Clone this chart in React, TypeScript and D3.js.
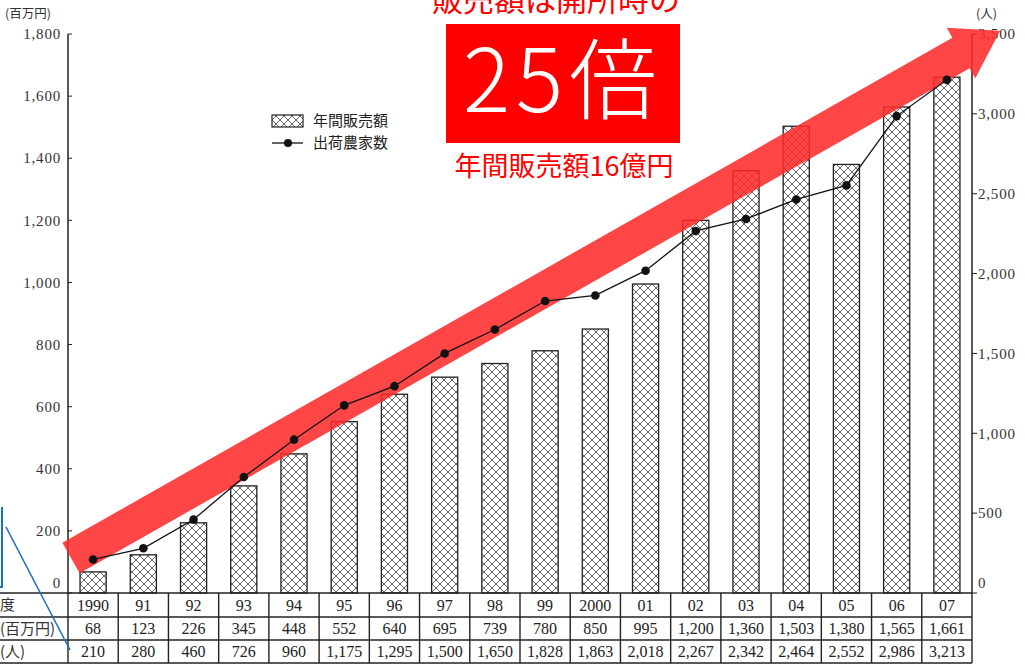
import * as d3 from "d3";
import React from "react";

// 年度・年間販売額(百万円)・出荷農家数(人)
const years = ["1990", "91", "92", "93", "94", "95", "96", "97", "98", "99", "2000", "01", "02", "03", "04", "05", "06", "07"];
const sales = [68, 123, 226, 345, 448, 552, 640, 695, 739, 780, 850, 995, 1200, 1360, 1503, 1380, 1565, 1661];
const farmers = [210, 280, 460, 726, 960, 1175, 1295, 1500, 1650, 1828, 1863, 2018, 2267, 2342, 2464, 2552, 2986, 3213];
const leftTicks = [0, 200, 400, 600, 800, 1000, 1200, 1400, 1600, 1800];
const rightTicks = [0, 500, 1000, 1500, 2000, 2500, 3000, 3500];
const rowLabels = ["度", "(百万円)", "(人)"];

const width = 1025;
const height = 666;
const plot = { left: 68, right: 972, top: 34, bottom: 593 };
const rowsY = [593, 617, 640, 663];

const serif = "'Liberation Serif', 'DejaVu Serif', serif";
const jp = "'Noto Sans CJK JP', sans-serif";

export default function App() {
  const x = d3
    .scaleBand<string>()
    .domain(years)
    .range([plot.left, plot.right])
    .paddingInner(0.48)
    .paddingOuter(0.24);
  const step = x.step();
  const yL = d3.scaleLinear().domain([0, 1800]).range([plot.bottom, plot.top]);
  const yR = d3.scaleLinear().domain([0, 3500]).range([plot.bottom, plot.top]);
  const fmt = d3.format(",");

  const cx = (i: number) => (x(years[i]) || 0) + x.bandwidth() / 2;
  const line = d3
    .line<number>()
    .x((_, i) => cx(i))
    .y((d) => yR(d));

  // big red arrow (annotation)
  const T = [71, 558];
  const B = [961, 53];
  const len = Math.hypot(B[0] - T[0], B[1] - T[1]);
  const u = [(B[0] - T[0]) / len, (B[1] - T[1]) / len];
  const n = [-u[1], u[0]];
  const hw = 17.5;
  const hh = 29;
  const hl = 45;
  const p = (o: number[], k: number) => [o[0] + n[0] * k, o[1] + n[1] * k];
  const tip = [B[0] + u[0] * hl, B[1] + u[1] * hl];
  const arrowPts = [p(T, -hw), p(B, -hw), p(B, -hh), tip, p(B, hh), p(B, hw), p(T, hw)];

  return (
    <svg
      width={width}
      height={height}
      style={{ position: "absolute", left: 0, top: 0, background: "#fff" }}
    >
      <defs>
        <pattern id="hatch" width={8} height={8} patternUnits="userSpaceOnUse">
          <rect width={8} height={8} fill="#fff" />
          <path d="M0,0L8,8M8,0L0,8" stroke="#555" strokeWidth={0.9} />
        </pattern>
      </defs>

      {/* axis titles */}
      <text x={5} y={18} fontFamily={jp} fontSize={12.5} fill="#333">(百万円)</text>
      <text x={976} y={18} fontFamily={jp} fontSize={12.5} fill="#333">(人)</text>

      {/* axes */}
      <line x1={plot.left} x2={plot.left} y1={plot.top} y2={plot.bottom} stroke="#222" strokeWidth={1.5} />
      <line x1={plot.right} x2={plot.right} y1={plot.top} y2={plot.bottom} stroke="#222" strokeWidth={1.5} />
      {leftTicks.map((t) => (
        <g key={"l" + t}>
          <line x1={plot.left} x2={plot.left + 4} y1={yL(t)} y2={yL(t)} stroke="#222" />
          <text
            x={61}
            y={Math.min(yL(t), 583)}
            dy="0.35em"
            textAnchor="end"
            fontFamily={serif}
            fontSize={15}
            letterSpacing={0.8}
            fill="#333"
          >
            {fmt(t)}
          </text>
        </g>
      ))}
      {rightTicks.map((t) => (
        <g key={"r" + t}>
          <line x1={plot.right} x2={plot.right + 5} y1={yR(t)} y2={yR(t)} stroke="#222" />
          <text
            x={978}
            y={Math.min(yR(t), 583)}
            dy="0.35em"
            fontFamily={serif}
            fontSize={15}
            letterSpacing={0.8}
            fill="#333"
          >
            {fmt(t)}
          </text>
        </g>
      ))}

      {/* bars */}
      {sales.map((v, i) => (
        <rect
          key={years[i]}
          x={x(years[i])}
          y={yL(v)}
          width={x.bandwidth()}
          height={plot.bottom - yL(v)}
          fill="url(#hatch)"
          stroke="#222"
          strokeWidth={1.3}
        />
      ))}

      {/* legend */}
      <rect x={272} y={115} width={31} height={12} fill="url(#hatch)" stroke="#222" strokeWidth={1.2} />
      <text x={313} y={121} dy="0.35em" fontFamily={jp} fontSize={15} fill="#222">年間販売額</text>
      <line x1={272} x2={303} y1={143} y2={143} stroke="#111" strokeWidth={1.3} />
      <circle cx={288} cy={143} r={4} fill="#111" />
      <text x={313} y={143} dy="0.35em" fontFamily={jp} fontSize={15} fill="#222">出荷農家数</text>

      {/* arrow */}
      <polygon points={arrowPts.map((q) => q.join(",")).join(" ")} fill="#ff2b2b" opacity={0.87} />

      {/* line */}
      <path d={line(farmers) || ""} fill="none" stroke="#111" strokeWidth={1.3} />
      {farmers.map((v, i) => (
        <circle key={"c" + i} cx={cx(i)} cy={yR(v)} r={4.3} fill="#111" />
      ))}

      {/* table */}
      {rowsY.map((ry, i) => (
        <line key={"h" + i} x1={0} x2={plot.right} y1={ry} y2={ry} stroke="#222" strokeWidth={1.4} />
      ))}
      {d3.range(years.length + 1).map((i) => (
        <line
          key={"v" + i}
          x1={plot.left + i * step}
          x2={plot.left + i * step}
          y1={rowsY[0]}
          y2={rowsY[3]}
          stroke="#222"
          strokeWidth={1.4}
        />
      ))}
      {rowLabels.map((lab, r) => (
        <text
          key={"rl" + r}
          x={0}
          y={(rowsY[r] + rowsY[r + 1]) / 2}
          dy="0.35em"
          fontFamily={jp}
          fontSize={15}
          fill="#333"
        >
          {lab}
        </text>
      ))}
      {[years, sales.map(fmt), farmers.map(fmt)].map((row, r) =>
        row.map((s, i) => (
          <text
            key={"t" + r + "-" + i}
            x={cx(i)}
            y={(rowsY[r] + rowsY[r + 1]) / 2}
            dy="0.36em"
            textAnchor="middle"
            fontFamily={serif}
            fontSize={16}
            fill="#222"
          >
            {s}
          </text>
        ))
      )}

      {/* blue annotation lines */}
      <line x1={2} x2={2} y1={507} y2={587} stroke="#1f6fc0" strokeWidth={2} />
      <line x1={0} x2={3} y1={587} y2={587} stroke="#1f6fc0" strokeWidth={2} />
      <line x1={6} x2={70} y1={527} y2={650} stroke="#1f6fc0" strokeWidth={1.6} />

      {/* headline */}
      <text x={556} y={11} textAnchor="middle" fontFamily={jp} fontSize={31} fill="#ff0000">
        販売額は開所時の
      </text>
      <rect x={446} y={24} width={234} height={119} fill="#ff0000" />
      <text
        x={563}
        y={112}
        textAnchor="middle"
        fontFamily={jp}
        fontSize={88}
        fontWeight={300}
        letterSpacing={6}
        fill="#fff"
      >
        25倍
      </text>
      <text x={564} y={176} textAnchor="middle" fontFamily={jp} fontSize={27} fill="#ff0000">
        年間販売額16億円
      </text>
    </svg>
  );
}
